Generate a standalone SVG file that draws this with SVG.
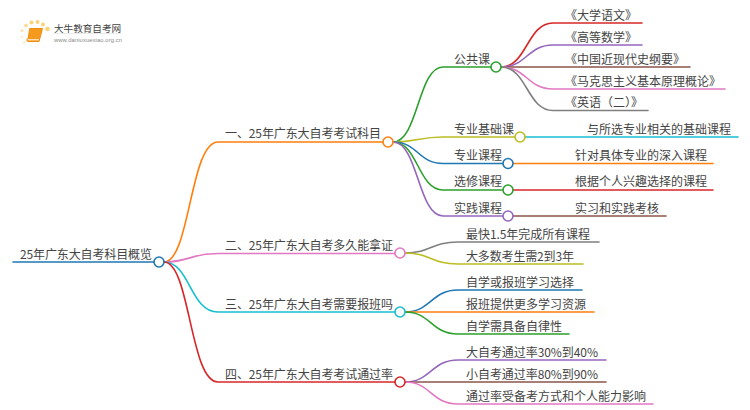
<svg xmlns="http://www.w3.org/2000/svg" width="750" height="410" viewBox="0 0 750 410">
<style>
text{font-family:"Noto Sans CJK SC","Liberation Sans",sans-serif;font-size:12px;fill:#444}
path{fill:none;stroke-width:1.6;stroke-linecap:round}
circle{fill:#fff;stroke-width:1.6}
.d{stroke:none}
.c0{stroke:#1f77b4}.c1{stroke:#ff7f0e}.c2{stroke:#2ca02c}.c3{stroke:#d62728}.c4{stroke:#9467bd}.c5{stroke:#8c564b}.c6{stroke:#e377c2}.c7{stroke:#7f7f7f}.c8{stroke:#bcbd22}.c9{stroke:#17becf}
</style>
<g id="connectors">
<path class="c0" d="M13 262H154"/>
<path class="c1" d="M164 262C190 262 190 142 218 142H383"/>
<path class="c6" d="M164 262C190 262 190 253.500 218 253.500H395"/>
<path class="c9" d="M164 262C190 262 190 312 218 312H395"/>
<path class="c3" d="M164 262C190 262 190 382 218 382H395"/>
<path class="c2" d="M393 142C418 142 418 67 443 67H491"/>
<path class="c8" d="M393 142C418 142 418 137 443 137H515"/>
<path class="c0" d="M393 142C418 142 418 163.500 443 163.500H503"/>
<path class="c2" d="M393 142C418 142 418 190 443 190H503"/>
<path class="c4" d="M393 142C418 142 418 216 443 216H503"/>
<path class="c3" d="M501 67C527 67 527 23 553 23H642"/>
<path class="c4" d="M501 67C527 67 527 45 553 45H642"/>
<path class="c5" d="M501 67H690"/>
<path class="c6" d="M501 67C527 67 527 89 553 89H725"/>
<path class="c7" d="M501 67C527 67 527 110.500 553 110.500H648"/>
<path class="c9" d="M525 137H738"/>
<path class="c1" d="M513 163.500H713"/>
<path class="c3" d="M513 190H713"/>
<path class="c5" d="M513 216H666"/>
<path class="c7" d="M405 253C431 253 431 242 458 242H599"/>
<path class="c8" d="M405 253C431 253 431 264 458 264H583"/>
<path class="c0" d="M405 312C431 312 431 290 458 290H582"/>
<path class="c1" d="M405 312H594"/>
<path class="c2" d="M405 312C431 312 431 334 458 334H569"/>
<path class="c4" d="M405 382C431 382 431 360 458 360H606"/>
<path class="c5" d="M405 382H606"/>
<path class="c6" d="M405 382C431 382 431 404 458 404H653"/>
</g>
<g id="logo">
<circle class="d" cx="22" cy="30.500" r="1.500" style="fill:#fde3ae"/>
<circle class="d" cx="26" cy="25.500" r="1.800" style="fill:#fcd98f"/>
<circle class="d" cx="31.500" cy="22.500" r="2" style="fill:#fbd27a"/>
<circle class="d" cx="37.500" cy="22" r="2" style="fill:#fbd27a"/>
<circle class="d" cx="43" cy="24.500" r="2" style="fill:#fbd27a"/>
<circle class="d" cx="47.500" cy="29" r="2.300" style="fill:#fbd27a"/>
<circle class="d" cx="22" cy="37" r="1.200" style="fill:#fdebc8"/>
<circle class="d" cx="24" cy="42.500" r="1.200" style="fill:#fdebc8"/>
<path d="M30 28.500H42.500L39 41.500H28C26.500 41.500 26.500 39 28 38Z" style="fill:#f59a1c;stroke:#ee8c12;stroke-width:1;stroke-linejoin:round"/>
<path d="M28 39.800H38.500" style="stroke:#fff;stroke-width:1"/>
<text x="54" y="31.500" style="font-size:9.600px;fill:#444">大牛教育自考网</text>
<path d="M54 33.500H121" style="stroke:#ddd;stroke-width:.6"/>
<text x="54" y="41.500" textLength="68" style="font-size:5.800px;fill:#888;font-family:'Liberation Sans',sans-serif">www.daniuxuexiao.org.cn</text>
</g>
<g id="root"><circle class="c0" cx="159" cy="262" r="5"/><text x="20" y="258.500" textLength="132">25年广东大自考科目概览</text></g>
<g id="n1"><circle class="c1" cx="388" cy="142" r="5"/><text x="225" y="138" textLength="156">一、25年广东大自考考试科目</text></g>
<g id="n2"><circle class="c6" cx="400" cy="253" r="5"/><text x="225" y="249.500" textLength="168">二、25年广东大自考多久能拿证</text></g>
<g id="n3"><circle class="c9" cx="400" cy="312" r="5"/><text x="225" y="308.500" textLength="168">三、25年广东大自考需要报班吗</text></g>
<g id="n4"><circle class="c3" cx="400" cy="382" r="5"/><text x="225" y="378.500" textLength="168">四、25年广东大自考考试通过率</text></g>
<g id="n1a"><circle class="c2" cx="496" cy="67" r="5"/><text x="454" y="63.500">公共课</text></g>
<g id="n1b"><circle class="c8" cx="520" cy="137" r="5"/><text x="454" y="133.500">专业基础课</text></g>
<g id="n1c"><circle class="c0" cx="508" cy="163.500" r="5"/><text x="454" y="160">专业课程</text></g>
<g id="n1d"><circle class="c2" cx="508" cy="190" r="5"/><text x="454" y="186">选修课程</text></g>
<g id="n1e"><circle class="c4" cx="508" cy="216" r="5"/><text x="454" y="212.500">实践课程</text></g>
<g id="leaves">
<text x="565" y="19.500">《大学语文》</text>
<text x="565" y="41.500">《高等数学》</text>
<text x="565" y="63.500">《中国近现代史纲要》</text>
<text x="565" y="85.500">《马克思主义基本原理概论》</text>
<text x="565" y="107">《英语（二）》</text>
<text x="587" y="133.500">与所选专业相关的基础课程</text>
<text x="575" y="160">针对具体专业的深入课程</text>
<text x="575" y="186">根据个人兴趣选择的课程</text>
<text x="575" y="212.500">实习和实践考核</text>
<text x="466" y="238.500" textLength="124">最快1.5年完成所有课程</text>
<text x="466" y="260.500" textLength="108">大多数考生需2到3年</text>
<text x="466" y="286.500">自学或报班学习选择</text>
<text x="466" y="308.500">报班提供更多学习资源</text>
<text x="466" y="330.500">自学需具备自律性</text>
<text x="466" y="356.500" textLength="132">大自考通过率30%到40%</text>
<text x="466" y="378.500" textLength="132">小自考通过率80%到90%</text>
<text x="466" y="400.500">通过率受备考方式和个人能力影响</text>
</g>
</svg>
